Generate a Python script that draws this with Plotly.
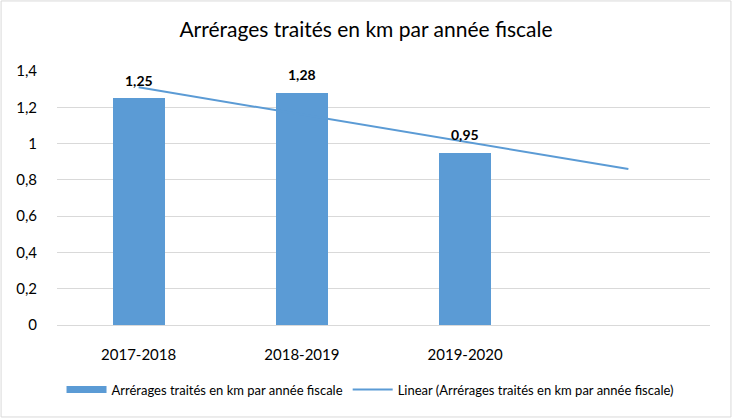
import numpy as np
import plotly.graph_objects as go

categories = ["2017-2018", "2018-2019", "2019-2020"]
values = [1.25, 1.28, 0.95]
series_name = "Arrérages traités en km par année fiscale"
trend_name = "Linear (Arrérages traités en km par année fiscale)"
title = "Arrérages traités en km par année fiscale"
forward_periods = 1

FONT = "Lato"
BLUE = "#5b9bd5"
W, H = 732, 418
ML, MR, MT, MB = 56.5, 21.5, 70.7, 92.7

x_idx = np.arange(len(categories))
slope, intercept = np.polyfit(x_idx, values, 1)
trend_x = np.array([0, len(categories) - 1 + forward_periods])
trend_y = slope * trend_x + intercept

fig = go.Figure()
fig.add_trace(go.Bar(
    x=x_idx, y=values, name=series_name, marker=dict(color=BLUE, line=dict(width=0)),
    width=0.32, showlegend=False, legendgroup="bar",
))
# legend-only entry giving a wide rectangular swatch for the bar series
fig.add_trace(go.Scatter(
    x=[None], y=[None], mode="lines", name=series_name, legendgroup="bar",
    line=dict(color=BLUE, width=7), hoverinfo="skip",
))
fig.add_trace(go.Scatter(
    x=trend_x, y=trend_y, mode="lines", name=trend_name,
    line=dict(color=BLUE, width=2),
))

for xi, v in zip(x_idx, values):
    fig.add_annotation(x=xi, y=v, text="<b>" + f"{v:.2f}".replace(".", ",") + "</b>",
                       showarrow=False, yshift=18, yanchor="middle",
                       font=dict(family=FONT, size=14, color="#000000"))

pw = W - ML - MR
ph = H - MT - MB
fig.add_shape(type="rect", xref="paper", yref="paper",
              x0=(0.5 - ML) / pw, x1=(W - 0.5 - ML) / pw,
              y0=-(H - 0.5 - MT - ph) / ph, y1=1 + (MT - 0.5) / ph,
              line=dict(color="#d9d9d9", width=1), layer="below")

fig.update_layout(
    width=W, height=H,
    margin=dict(l=ML, r=MR, t=MT, b=MB, pad=0, autoexpand=False),
    paper_bgcolor="white", plot_bgcolor="white",
    separators=", ",
    title=dict(text=title, x=0.5, xref="container", y=1 - 30 / H, yanchor="middle",
               font=dict(family=FONT, size=21, color="#000000")),
    xaxis=dict(range=[-0.5, 3.5], tickvals=list(x_idx), ticktext=categories,
               showgrid=False, zeroline=False, showline=False,
               ticks="outside", ticklen=16, tickcolor="rgba(0,0,0,0)",
               tickfont=dict(family=FONT, size=15, color="#000000"), fixedrange=True),
    yaxis=dict(range=[0, 1.4], dtick=0.2, showgrid=True, gridcolor="#d9d9d9", gridwidth=1,
               zeroline=True, zerolinecolor="#d9d9d9", zerolinewidth=1, showline=False,
               ticks="outside", ticklen=16, tickcolor="rgba(0,0,0,0)",
               tickfont=dict(family=FONT, size=15, color="#000000")),
    legend=dict(orientation="h", x=(370 - ML) / pw, xanchor="center", y=-(390 - MT - ph) / ph,
                yanchor="middle", font=dict(family=FONT, size=13, color="#000000"),
                itemwidth=40, tracegroupgap=0),
    showlegend=True,
    bargap=0,
)

fig.write_html("out.html")
